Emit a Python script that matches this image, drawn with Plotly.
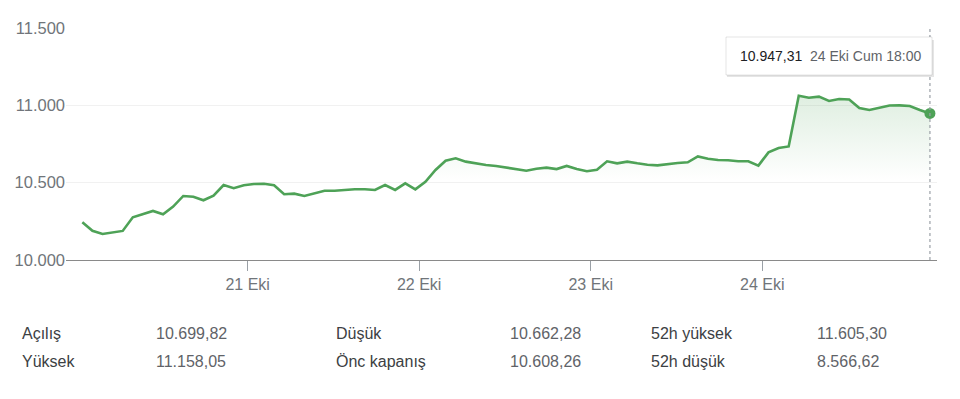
import plotly.graph_objects as go

# ---- data ----
values = [
    10244, 10189, 10168, 10177, 10188, 10276, 10297, 10317, 10296, 10345,
    10414, 10409, 10386, 10416, 10485, 10464, 10483, 10491, 10493, 10483,
    10425, 10429, 10414, 10431, 10448, 10448, 10453, 10457, 10457, 10453,
    10485, 10453, 10496, 10457, 10506, 10582, 10642, 10658, 10636, 10625,
    10614, 10608, 10599, 10588, 10577, 10590, 10597, 10588, 10608, 10588,
    10574, 10584, 10638, 10625, 10636, 10625, 10616, 10612, 10621, 10627,
    10632, 10670, 10655, 10647, 10645, 10638, 10638, 10610, 10696, 10724,
    10734, 11062, 11049, 11056, 11028, 11041, 11038, 10983, 10970, 10986,
    10999, 11000, 10996, 10970, 10947.31,
]
day_labels = ["21 Eki", "22 Eki", "23 Eki", "24 Eki"]
points_per_day = 17
y_tick_values = [10000, 10500, 11000, 11500]
y_tick_labels = ["10.000", "10.500", "11.000", "11.500"]

tooltip_value = "10.947,31"
tooltip_time = "24 Eki Cum 18:00"

stats_labels_left = ["Açılış", "Yüksek"]
stats_values_left = ["10.699,82", "11.158,05"]
stats_labels_mid = ["Düşük", "Önc kapanış"]
stats_values_mid = ["10.662,28", "10.608,26"]
stats_labels_right = ["52h yüksek", "52h düşük"]
stats_values_right = ["11.605,30", "8.566,62"]

# ---- layout geometry ----
W, H = 960, 399
ML, MR, MT, MB = 66, 23, 28, 139
PW, PH = W - ML - MR, H - MT - MB


def px(x):
    return (x - ML) / PW


def py(y):
    return (H - MB - y) / PH


x = list(range(len(values)))
tick_positions = [points_per_day * (k + 1) - 0.62 for k in range(len(day_labels))]

GREEN = "#4ea257"
FONT = "Liberation Sans, Arial, sans-serif"

fig = go.Figure()
fig.add_trace(go.Scatter(
    x=x, y=[y_tick_values[0]] * len(x), mode="lines",
    line=dict(width=0, color="rgba(0,0,0,0)"), hoverinfo="skip", showlegend=False,
))
fig.add_trace(go.Scatter(
    x=x, y=values, mode="lines",
    line=dict(color=GREEN, width=2.6),
    fill="tonexty",
    fillgradient=dict(
        type="vertical",
        colorscale=[[0, "rgba(78,162,87,0)"], [0.48, "rgba(78,162,87,0)"],
                    [1, "rgba(78,162,87,0.18)"]],
    ),
    showlegend=False,
))
fig.add_trace(go.Scatter(
    x=[x[-1]], y=[values[-1]], mode="markers",
    marker=dict(color=GREEN, size=11), showlegend=False,
))

shapes = [
    dict(type="line", xref="x", yref="y", x0=x[-1], x1=x[-1],
         y0=y_tick_values[0], y1=y_tick_values[-1],
         line=dict(color="#9aa0a6", width=1.2, dash="dot"), layer="above"),
    dict(type="rect", xref="paper", yref="paper",
         x0=px(727), x1=px(934), y0=py(40), y1=py(77),
         fillcolor="rgba(0,0,0,0.10)", line=dict(width=0), layer="above"),
    dict(type="rect", xref="paper", yref="paper",
         x0=px(726), x1=px(932), y0=py(37), y1=py(75),
         fillcolor="white", line=dict(color="rgba(0,0,0,0.10)", width=1), layer="above"),
]

annotations = [
    dict(xref="paper", yref="paper", x=px(738), y=py(56), xanchor="left", yanchor="middle",
         text=tooltip_value, showarrow=False,
         font=dict(family=FONT, size=14, color="#202124")),
    dict(xref="paper", yref="paper", x=px(808), y=py(56), xanchor="left", yanchor="middle",
         text=tooltip_time, showarrow=False,
         font=dict(family=FONT, size=14, color="#5f6368")),
]

rows_y = [333, 361]
cols = [
    (20, stats_labels_left, "#3c4043"), (154, stats_values_left, "#5f6368"),
    (334, stats_labels_mid, "#3c4043"), (508, stats_values_mid, "#5f6368"),
    (649, stats_labels_right, "#3c4043"), (815, stats_values_right, "#5f6368"),
]
for cx, texts, color in cols:
    for ry, t in zip(rows_y, texts):
        annotations.append(dict(
            xref="paper", yref="paper", x=px(cx), y=py(ry), xanchor="left", yanchor="middle",
            text=t, showarrow=False, font=dict(family=FONT, size=16, color=color)))

fig.update_layout(
    width=W, height=H,
    margin=dict(l=ML, r=MR, t=MT, b=MB),
    paper_bgcolor="white", plot_bgcolor="white",
    font=dict(family=FONT, color="#70757a"),
    showlegend=False,
    hovermode=False,
    xaxis=dict(
        range=[-1.62, 84.7], showgrid=False, zeroline=False,
        tickmode="array", tickvals=tick_positions, ticktext=day_labels,
        ticks="outside", ticklen=10, tickcolor="#9aa0a6", tickwidth=1,
        showline=True, linecolor="#8a8a8a", linewidth=1.2,
        tickfont=dict(family=FONT, size=16, color="#70757a"),
    ),
    yaxis=dict(
        range=[y_tick_values[0], y_tick_values[-1]], zeroline=False,
        tickmode="array", tickvals=y_tick_values, ticktext=y_tick_labels,
        showgrid=True, gridcolor="#f1f1f1", gridwidth=1,
        showline=False, ticks="",
        tickfont=dict(family=FONT, size=16.5, color="#70757a"),
    ),
    shapes=shapes,
    annotations=annotations,
)

fig.write_html("out.html")
